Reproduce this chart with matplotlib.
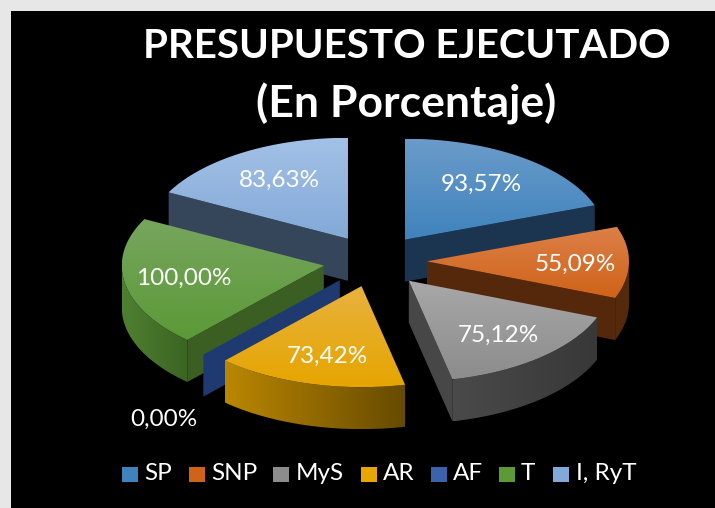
import numpy as np
import matplotlib
matplotlib.use("Agg")
import matplotlib.pyplot as plt
from matplotlib.colors import LinearSegmentedColormap
from matplotlib.patches import Polygon, Rectangle

labels = ["SP", "SNP", "MyS", "AR", "AF", "T", "I, RyT"]
values = [93.57, 55.09, 75.12, 73.42, 0.0, 100.0, 83.63]
value_text = ["93,57%", "55,09%", "75,12%", "73,42%", "0,00%", "100,00%", "83,63%"]

# top colour (light end, base end), wall colour (left, right), radial wall colour
top_colors = ["#6a9bc9 #3f83bd", "#dc8048 #cf6318", "#a8a8a8 #8c8c8c", "#e8b23e #e6a500",
              "#3b62ac #3b62ac", "#77a55e #5b9a37", "#a3c1e6 #83a9d8"]
wall_colors = ["#1c3550 #1c3550", "#552a0c #552a0c", "#4a4a4a #383838", "#bb8702 #664a00",
               "#3a4a78 #1b3a6e", "#4f8031 #3b6423", "#35475c #35475c"]
side_colors = ["#1b3450", "#56280b", "#474747", "#6e5000", "#1f3a70", "#3b5f22", "#36465a"]

title_1 = "PRESUPUESTO EJECUTADO"
title_2 = "(En Porcentaje)"

cx, cy = 375, 261
rx, ry = 202, 101
explode = 52
depth = 42


def gradient(ax, poly, c1, c2, horizontal):
    cmap = LinearSegmentedColormap.from_list("g", [c1, c2])
    grad = np.linspace(0, 1, 256)
    grad = grad.reshape(1, -1) if horizontal else grad.reshape(-1, 1)
    x0, y0 = poly.min(axis=0)
    x1, y1 = poly.max(axis=0)
    im = ax.imshow(grad, cmap=cmap, extent=(x0, x1, y1, y0), aspect="auto", zorder=ax.zo)
    patch = Polygon(poly, closed=True, transform=ax.transData, fc="none", ec="none")
    ax.add_patch(patch)
    im.set_clip_path(patch)
    ax.zo += 1


def point(a, ox, oy, dz=0):
    return ox + rx * np.sin(a), oy - ry * np.cos(a) + dz


def draw_slice(ax, i, t1, t2):
    mid = (t1 + t2) / 2
    ox = cx + explode * np.sin(mid)
    oy = cy - explode * 0.5 * np.cos(mid)
    apex = np.array([ox, oy])
    angs = np.linspace(t1, t2, 60)
    rim = np.column_stack(point(angs, ox, oy))

    # radial walls that face the viewer
    for a, normal in ((t1, t1 - np.pi / 2), (t2, t2 + np.pi / 2)):
        if np.cos(normal) < -1e-6:
            e = np.array(point(a, ox, oy))
            poly = np.array([apex, e, e + [0, depth], apex + [0, depth]])
            ax.add_patch(Polygon(poly, closed=True, fc=side_colors[i], ec="none", zorder=ax.zo))
            ax.zo += 1

    # outer wall, only the front part
    lo, hi = max(t1, np.pi / 2), min(t2, 3 * np.pi / 2)
    if hi > lo:
        a = np.linspace(lo, hi, 60)
        up = np.column_stack(point(a, ox, oy))
        poly = np.vstack([up, (up + [0, depth])[::-1]])
        c1, c2 = wall_colors[i].split()
        gradient(ax, poly, c1, c2, True)

    # top face
    if t2 > t1:
        poly = np.vstack([apex, rim])
        c1, c2 = top_colors[i].split()
        gradient(ax, poly, c1, c2, False)


fig = plt.figure(figsize=(7.15, 5.08), dpi=100, facecolor="#e7e7e7")
ax = fig.add_axes([0, 0, 1, 1])
ax.zo = 3
ax.set_xlim(0, 715)
ax.set_ylim(508, 0)
ax.axis("off")
ax.add_patch(Rectangle((11, 11), 704, 497, fc="black", ec="none", zorder=1))

frac = np.array(values) / sum(values) * 2 * np.pi
starts = np.concatenate([[0], np.cumsum(frac)[:-1]])
ends = starts + frac

# back slices first, the ones nearest the viewer last
order = [6, 0, 1, 5, 4, 2, 3]
for i in order:
    draw_slice(ax, i, starts[i], ends[i])

label_pos = [(481, 184), (575, 264), (498, 335), (327, 356), (164, 419), (184, 278), (279, 180)]
for s, (x, y) in zip(value_text, label_pos):
    ax.text(x, y, s, color="white", fontsize=17.5, family="Lato", ha="center", va="center", zorder=50)

ax.text(407, 47, title_1, color="white", fontsize=29, family="Lato", weight="bold",
        ha="center", va="center", zorder=50)
ax.text(406, 104, title_2, color="white", fontsize=32, family="Lato", weight="bold",
        ha="center", va="center", zorder=50)

# legend
swatch_x = [122, 189, 273, 361, 431, 499, 553]
text_x = [144, 211, 296, 383, 453, 521, 576]
for i, s in enumerate(labels):
    sw = Rectangle((swatch_x[i], 467), 16, 15, fc=top_colors[i].split()[1], ec="none", zorder=50)
    ax.add_patch(sw)
    ax.text(text_x[i], 474, s, color="white", fontsize=17.5, family="Lato", ha="left", va="center", zorder=50)

fig.savefig("out.png", dpi=100, facecolor=fig.get_facecolor())
